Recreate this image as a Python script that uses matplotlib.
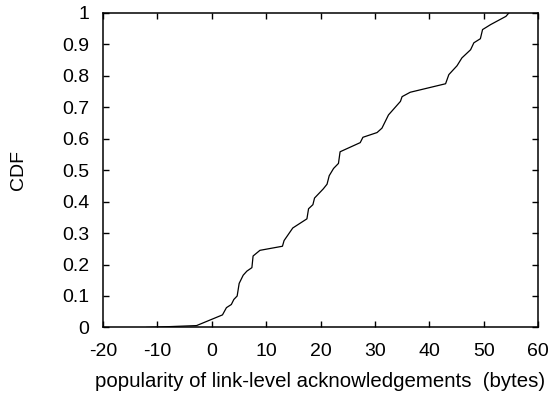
import matplotlib
matplotlib.use("Agg")
import matplotlib.pyplot as plt

# CDF curve
x_vals = [-12.0, -2.8, 1.97, 2.7, 3.6, 4.06, 4.67, 5.04, 5.78, 6.46, 7.38, 7.6, 8.86,
          13.0, 13.3, 14.9, 17.5, 17.8, 18.6, 18.9, 20.5, 21.2, 21.6, 22.4, 23.3, 23.6,
          27.3, 27.8, 30.4, 31.3, 32.5, 34.7, 35.0, 36.5, 43.0, 43.6, 44.4, 45.1, 46.0,
          47.6, 48.2, 49.4, 49.8, 51.3, 54.1, 54.7]
cdf_vals = [0.0, 0.006, 0.04, 0.063, 0.073, 0.089, 0.10, 0.14, 0.166, 0.179, 0.19, 0.227, 0.245,
            0.258, 0.276, 0.316, 0.345, 0.377, 0.39, 0.411, 0.440, 0.455, 0.482, 0.505, 0.521, 0.558,
            0.587, 0.604, 0.619, 0.633, 0.675, 0.718, 0.733, 0.747, 0.774, 0.803, 0.818, 0.831, 0.856,
            0.882, 0.904, 0.917, 0.946, 0.962, 0.988, 1.0]

x_ticks = [-20, -10, 0, 10, 20, 30, 40, 50, 60]
y_ticks = [0, 0.1, 0.2, 0.3, 0.4, 0.5, 0.6, 0.7, 0.8, 0.9, 1]
y_tick_labels = ["0", "0.1", "0.2", "0.3", "0.4", "0.5", "0.6", "0.7", "0.8", "0.9", "1"]

plt.rcParams['font.family'] = ['Liberation Sans', 'DejaVu Sans']

fig = plt.figure(figsize=(5.55, 3.93), dpi=100)
ax = fig.add_axes([0.1856, 0.1667, 0.7838, 0.8013])
ax.plot(x_vals, cdf_vals, color="black", linewidth=0.9)
ax.set_xlim(-20, 60)
ax.set_ylim(0, 1)
ax.set_xticks(x_ticks)
ax.set_xticklabels([str(t) for t in x_ticks])
ax.set_yticks(y_ticks)
ax.set_yticklabels(y_tick_labels)
ax.tick_params(direction="in", length=4.5, width=1.0, top=True, right=True,
               labelsize=14, pad=9.7)
ax.tick_params(axis="x", pad=11)
for s in ax.spines.values():
    s.set_linewidth(1.1)
ax.set_xlabel("popularity of link-level acknowledgements  (bytes)", fontsize=14.7, labelpad=8.5)
ax.set_ylabel("CDF", fontsize=14, labelpad=25.5)
fig.savefig("out.png", dpi=100)
